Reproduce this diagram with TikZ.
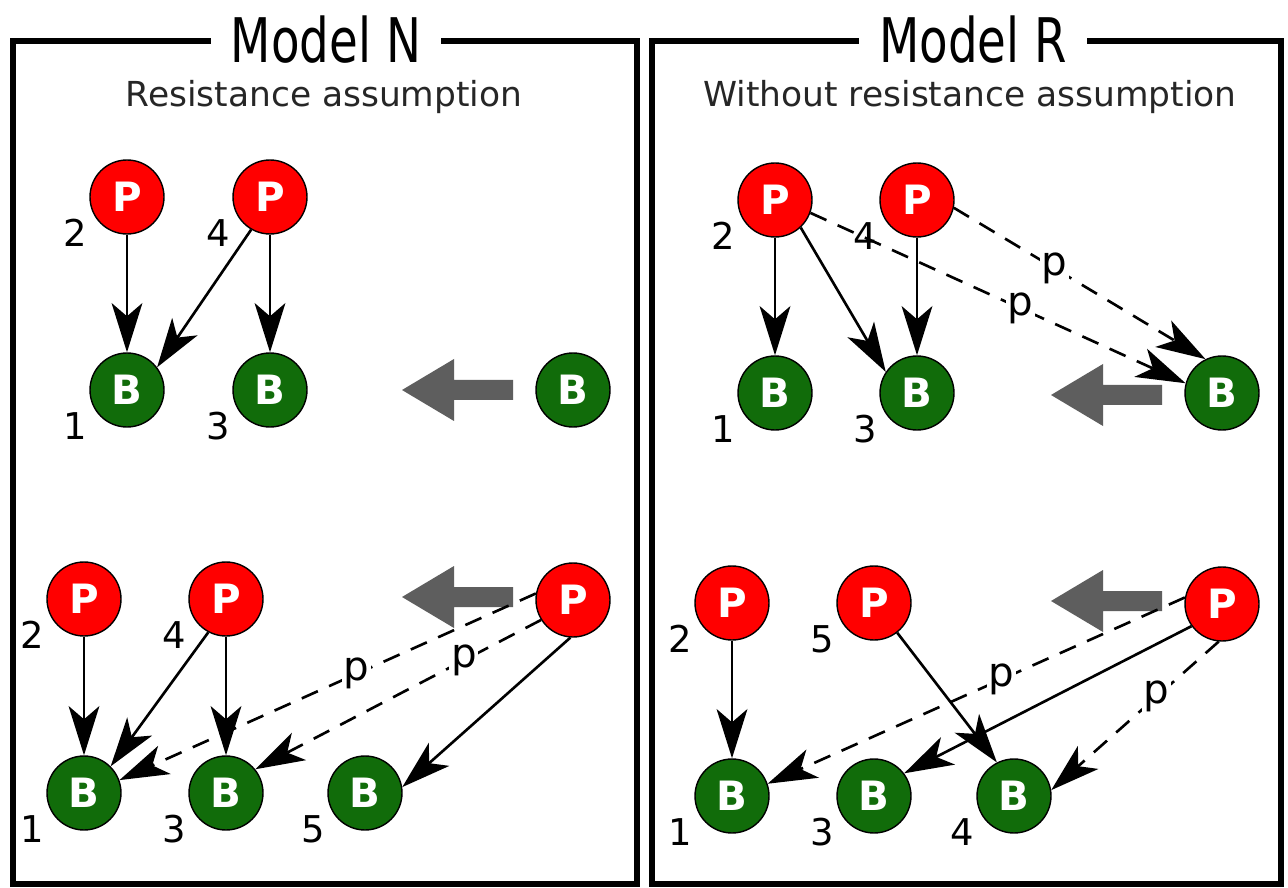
\documentclass[tikz,border=0pt]{standalone}
\usepackage{fontspec}
\setmainfont{DejaVu Sans}
\newfontfamily\titlefont[FakeStretch=0.76]{DejaVu Sans}
\usepackage{tikz}
\usetikzlibrary{arrows.meta}
\definecolor{bgreen}{RGB}{17,108,10}

\begin{document}
\begin{tikzpicture}[x=0.02cm, y=-0.02cm, >={Stealth[length=28pt, width=17.5pt, inset=7.5pt]},
    pnode/.style={circle, draw, line width=0.8pt, fill=red, minimum size=1.48cm, inner sep=0pt, text=white, font=\fontsize{23}{23}\selectfont\bfseries},
    bnode/.style={pnode, fill=bgreen},
    num/.style={inner sep=0pt, font=\fontsize{21}{21}\selectfont},
    link/.style={->, line width=1.5pt},
    plink/.style={link, dash pattern=on 10pt off 7pt},
    pl/.style={fill=white, inner sep=1pt, font=\fontsize{23}{23}\selectfont},
    frame/.style={line width=3.4pt},
    title/.style={anchor=base, fill=white, inner xsep=0.4cm, font=\titlefont\fontsize{35}{40}\selectfont},
    sub/.style={anchor=base, text=black!85, font=\fontsize{19.6}{22}\selectfont},
    label distance=0.155cm]
    \useasboundingbox (0,0) rectangle (1288,888);
    \fill[white] (0,0) rectangle (1288,888);

    \foreach \x/\y in {513/390, 1162/395, 513/597, 1162/601}
        \fill[black!63] (\x,\y-10) -- ++(-59,0) -- ++(0,-21) -- ++(-52,31) -- ++(52,31) -- ++(0,-21) -- ++(59,0) -- cycle;

    \draw[frame] (13,41) rectangle (637,884);
    \node[title] (tn) at (326,63) {Model N};
    \node[sub] (sn) at (324,107) {Resistance assumption};

    \node[pnode, label={[num]209:2}] (la2) at (127,197) {P};
    \node[pnode, label={[num]209:4}] (la4) at (270,197) {P};
    \node[bnode, label={[num]209:1}] (lb1) at (127,390) {B};
    \node[bnode, label={[num]209:3}] (lb3) at (270,390) {B};
    \node[bnode] (lbx) at (573,390) {B};
    \draw[link] (la2) -- (lb1);
    \draw[link] (la4.240) -- (lb1.37);
    \draw[link] (la4) -- (lb3);

    \node[pnode, label={[num]209:2}] (lc2) at (84,599) {P};
    \node[pnode, label={[num]209:4}] (lc4) at (226,599) {P};
    \node[pnode] (lcx) at (573,600) {P};
    \node[bnode, label={[num]209:1}] (ld1) at (84,793) {B};
    \node[bnode, label={[num]209:3}] (ld3) at (226,793) {B};
    \node[bnode, label={[num]209:5}] (ld5) at (365,793) {B};
    \draw[link] (lc2) -- (ld1);
    \draw[link] (lc4.242) -- (ld1.45);
    \draw[link] (lc4) -- (ld3);
    \draw[plink] (lcx.170) -- node[pl, pos=.43] {p} (ld1.20);
    \draw[plink] (lcx.212) -- node[pl, pos=.27] {p} (ld3.39);
    \draw[link] (lcx.266) -- (ld5.9);

    \draw[frame] (652,41) rectangle (1281,884);
    \node[title] (tr) at (973,63) {Model R};
    \node[sub] (sr) at (970,107) {Without resistance assumption};

    \node[pnode, label={[num]209:2}] (ra2) at (775,200) {P};
    \node[pnode, label={[num]209:4}] (ra4) at (917,200) {P};
    \node[bnode, label={[num]209:1}] (rb1) at (775,393) {B};
    \node[bnode, label={[num]209:3}] (rb3) at (917,393) {B};
    \node[bnode] (rbx) at (1222,393) {B};
    \draw[link] (ra2) -- (rb1);
    \draw[link] (ra2.313) -- (rb3.146);
    \draw[link] (ra4) -- (rb3);
    \draw[plink] (ra2.340) -- node[pl, pos=.56] {p} (rbx.165);
    \draw[plink] (ra4.348) -- node[pl, pos=.4] {p} (rbx.116);

    \node[pnode, label={[num]209:2}] (rc2) at (732,603) {P};
    \node[pnode, label={[num]209:5}] (rc5) at (874,603) {P};
    \node[pnode] (rcx) at (1222,604) {P};
    \node[bnode, label={[num]209:1}] (rd1) at (732,796) {B};
    \node[bnode, label={[num]209:3}] (rd3) at (874,796) {B};
    \node[bnode, label={[num]209:4}] (rd4) at (1014,796) {B};
    \draw[link] (rc2) -- (rd1);
    \draw[link] (rc5.308) -- (rd4.117);
    \draw[link] (rcx.216) -- (rd3.37);
    \draw[plink] (rcx.170) -- node[pl, pos=.44] {p} (rd1.19);
    \draw[plink] (rcx.265) -- node[pl, pos=.37] {p} (rd4.9);
\end{tikzpicture}
\end{document}
